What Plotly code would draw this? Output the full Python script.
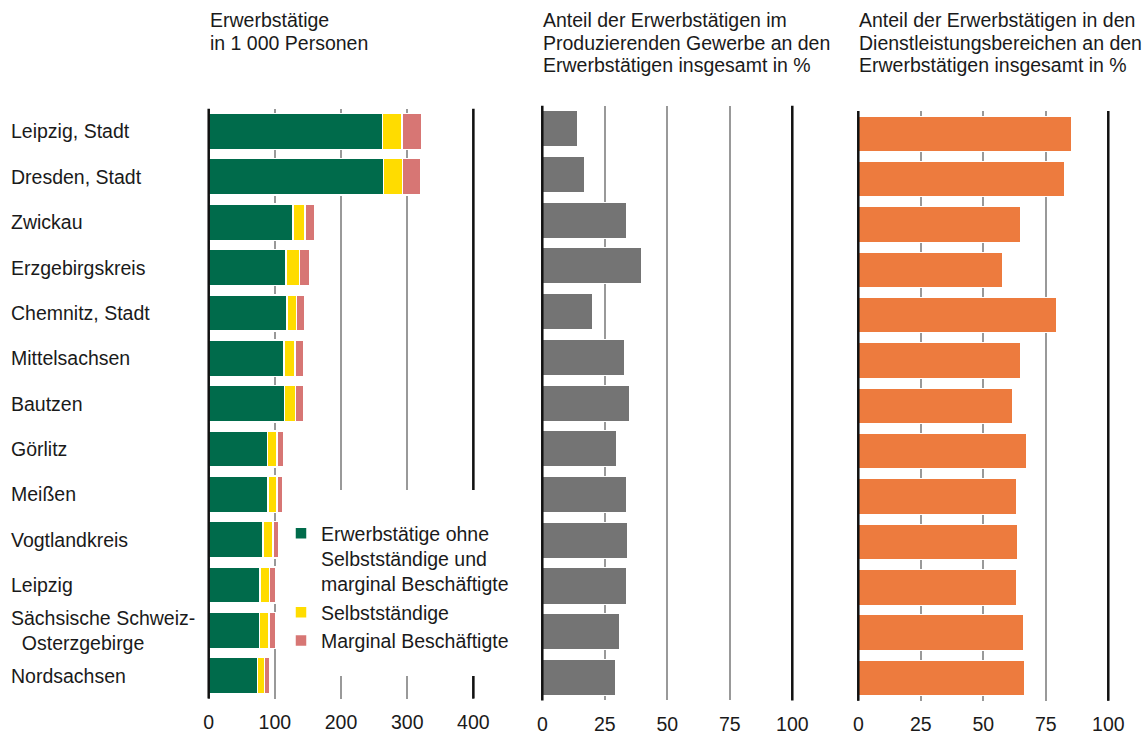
import plotly.graph_objects as go

regions = ["Leipzig, Stadt", "Dresden, Stadt", "Zwickau", "Erzgebirgskreis", "Chemnitz, Stadt",
           "Mittelsachsen", "Bautzen", "Görlitz", "Meißen", "Vogtlandkreis", "Leipzig",
           "Sächsische Schweiz-Osterzgebirge", "Nordsachsen"]
region_labels = ["Leipzig, Stadt", "Dresden, Stadt", "Zwickau", "Erzgebirgskreis", "Chemnitz, Stadt",
                 "Mittelsachsen", "Bautzen", "Görlitz", "Meißen", "Vogtlandkreis", "Leipzig",
                 "Sächsische Schweiz-<br>\u00a0\u00a0Osterzgebirge", "Nordsachsen"]

# Erwerbstätige in 1 000 Personen
employees = [262.4, 264.5, 127.4, 117.1, 118.6, 113.8, 114.3, 88.9, 89.3, 82.4, 77.8, 76.8, 73.7]
self_employed = [29.5, 28.1, 17.8, 20.1, 13.8, 16.3, 17.2, 14.1, 14.2, 14.4, 14.4, 14.7, 11.0]
marginal = [29.6, 27.9, 14.5, 15.0, 13.3, 13.5, 12.2, 10.5, 8.4, 8.6, 8.6, 9.4, 8.0]

# Anteile in %
share_industry = [14.2, 16.9, 33.6, 39.8, 20.1, 32.8, 34.9, 29.8, 33.8, 34.1, 33.7, 31.0, 29.4]
share_services = [85.2, 82.6, 65.0, 57.8, 79.3, 64.9, 61.6, 67.3, 63.2, 63.7, 63.3, 66.1, 66.5]

series_names = ["Erwerbstätige ohne<br>Selbstständige und<br>marginal Beschäftigte",
                "Selbstständige", "Marginal Beschäftigte"]

ticks1 = [0, 100, 200, 300, 400]
ticks_pct = [0, 25, 50, 75, 100]

titles = [
    ["Erwerbstätige", "in 1 000 Personen"],
    ["Anteil der Erwerbstätigen im", "Produzierenden Gewerbe an den", "Erwerbstätigen insgesamt in %"],
    ["Anteil der Erwerbstätigen in den", "Dienstleistungsbereichen an den", "Erwerbstätigen insgesamt in %"],
]

GREEN = "#006b4b"
YELLOW = "#ffdc00"
PINK = "#d77674"
GREY_BAR = "#747474"
ORANGE = "#ed7b3e"
GRID = "#999999"
BLACK = "#111111"
TXT = "#1a1a1a"
FONT = "Liberation Sans, Arial, sans-serif"
FS = 19.5

W, H = 1146, 734


def px_x(p):
    return p / W


def px_y(p):
    return 1 - p / H


fig = go.Figure()

for vals, name, col in zip([employees, self_employed, marginal], series_names, [GREEN, YELLOW, PINK]):
    fig.add_trace(go.Bar(
        x=vals, y=regions, orientation="h", name=name,
        marker=dict(color=col, line=dict(color="white", width=1.5)),
        width=0.80, xaxis="x", yaxis="y", showlegend=True,
    ))

fig.add_trace(go.Bar(
    x=share_industry, y=regions, orientation="h", name="Produzierendes Gewerbe",
    marker=dict(color=GREY_BAR, line=dict(color="white", width=1)),
    width=0.79, xaxis="x2", yaxis="y2", showlegend=False,
))
fig.add_trace(go.Bar(
    x=share_services, y=regions, orientation="h", name="Dienstleistungsbereiche",
    marker=dict(color=ORANGE, line=dict(color="white", width=1)),
    width=0.78, xaxis="x3", yaxis="y3", showlegend=False,
))

# panel geometry (pixel position of 0 and pixels per unit)
panels = [
    dict(zero=208.7, scale=0.6617, rng=[-4, 404], ticks=ticks1, top=108.8, bottom=698.5),
    dict(zero=542.3, scale=2.5, rng=[-1, 101], ticks=ticks_pct, top=105.8, bottom=700.4),
    dict(zero=858.3, scale=2.5, rng=[-1, 101], ticks=ticks_pct, top=111.1, bottom=700.7),
]

layout = dict(
    width=W, height=H, autosize=False, margin=dict(l=0, r=0, t=0, b=0, pad=0, autoexpand=False),
    paper_bgcolor="white", plot_bgcolor="white",
    barmode="stack", font=dict(family=FONT, size=FS, color=TXT),
    legend=dict(x=px_x(281), y=px_y(514), xanchor="left", yanchor="top",
                bgcolor="white", traceorder="normal", valign="top",
                font=dict(family=FONT, size=FS, color=TXT), itemclick=False),
    shapes=[], annotations=[],
)

for i, p in enumerate(panels):
    sfx = "" if i == 0 else str(i + 1)
    d0 = p["zero"] + p["rng"][0] * p["scale"]
    d1 = p["zero"] + p["rng"][1] * p["scale"]
    layout["xaxis" + sfx] = dict(
        domain=[px_x(d0), px_x(d1)], range=p["rng"], anchor="y" + sfx,
        tickvals=p["ticks"], ticktext=[str(t) for t in p["ticks"]],
        showgrid=True, gridcolor=GRID, gridwidth=2, zeroline=False, showline=False,
        ticks="", ticklabelstandoff=10, tickfont=dict(family=FONT, size=FS, color=TXT),
        fixedrange=True, automargin=False,
    )
    layout["yaxis" + sfx] = dict(
        domain=[px_y(p["bottom"]), px_y(p["top"])], anchor="x" + sfx,
        type="category", categoryarray=regions, range=[len(regions) - 0.5, -0.5],
        showticklabels=False, showgrid=False, zeroline=False, showline=False, ticks="",
        fixedrange=True, automargin=False,
    )
    # black boundary lines at 0 and at the maximum tick
    for v in (p["ticks"][0], p["ticks"][-1]):
        layout["shapes"].append(dict(
            type="line", xref="x" + sfx, yref="y" + sfx + " domain",
            x0=v, x1=v, y0=0, y1=1, line=dict(color=BLACK, width=2.5),
            layer="above",
        ))
    # panel titles
    for k, line in enumerate(titles[i]):
        layout["annotations"].append(dict(
            text=line, xref="paper", yref="paper", x=px_x(p["zero"] - 1), y=px_y(20.5 + 22.3 * k),
            xanchor="left", yanchor="middle", showarrow=False,
            font=dict(family=FONT, size=FS, color=TXT),
        ))

# white area behind the legend (covers the grid lines there)
layout["shapes"].append(dict(
    type="rect", xref="paper", yref="paper", x0=px_x(285), x1=px_x(512),
    y0=px_y(676), y1=px_y(490), fillcolor="white", line=dict(width=0), layer="above",
))

# category labels
for reg, lab in zip(regions, region_labels):
    layout["annotations"].append(dict(
        text=lab, xref="paper", yref="y", x=px_x(9), y=reg,
        xanchor="left", yanchor="middle", align="left", showarrow=False,
        font=dict(family=FONT, size=FS, color=TXT),
    ))

fig.update_layout(**layout)
fig.write_html(
    "out.html",
    config={"responsive": False, "displayModeBar": False, "staticPlot": True},
    post_script="document.body.style.margin='0px';document.body.style.overflow='hidden';",
)
